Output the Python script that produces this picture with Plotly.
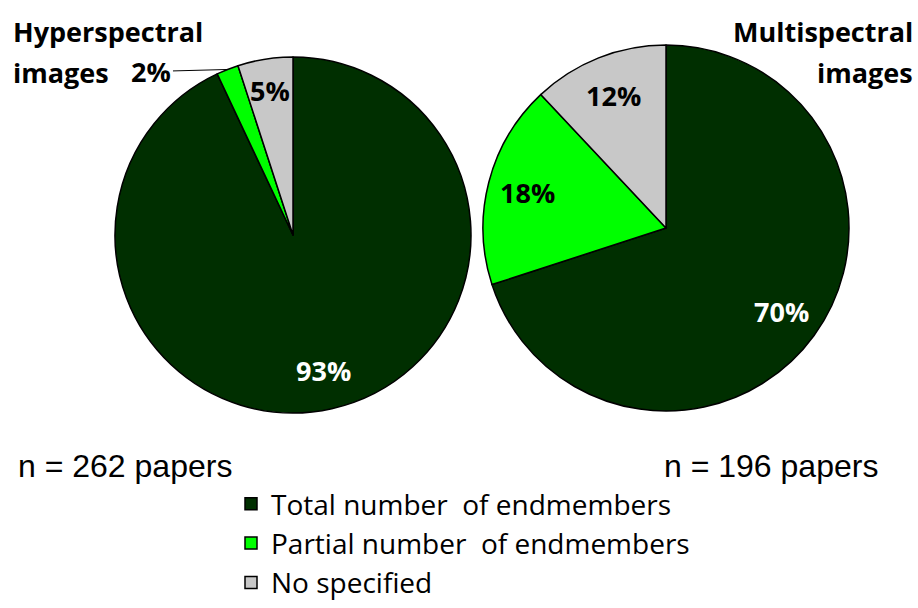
import math
import plotly.graph_objects as go

categories = ["Total number  of endmembers", "Partial number  of endmembers", "No specified"]
hyper_values = [93, 2, 5]
multi_values = [70, 18, 12]
colors = ["#002f00", "#00ff00", "#c8c8c8"]
label_colors = ["white", "black", "black"]
hyper_n = 262
multi_n = 196
hyper_title = ["Hyperspectral", "images"]
multi_title = ["Multispectral", "images"]

W, H = 918, 608
LABEL_FONT = "Open Sans"

# pie geometry (pixels): center x, center y, radius
HYPER_PIE = (293, 235, 178)
MULTI_PIE = (666, 228, 183)


def px_x(v):
    return v / W


def px_y(v):
    return 1 - v / H


def domain_of(pie):
    cx, cy, r = pie
    return dict(x=[px_x(cx - r), px_x(cx + r)], y=[px_y(cy + r), px_y(cy - r)])


def mid_angles(values):
    total = sum(values)
    out, cum = [], 0
    for v in values:
        out.append((cum + v / 2) / total * 2 * math.pi)
        cum += v
    return out


def point_on(pie, theta, frac):
    cx, cy, r = pie
    return cx + frac * r * math.sin(theta), cy - frac * r * math.cos(theta)


fig = go.Figure()
for values, pie, show in [(hyper_values, HYPER_PIE, True), (multi_values, MULTI_PIE, False)]:
    fig.add_trace(go.Pie(
        labels=categories, values=values, sort=False, direction="clockwise", rotation=0,
        marker=dict(colors=colors, line=dict(color="black", width=1.5)),
        textinfo="none", domain=domain_of(pie),
        showlegend=show, hoverinfo="label+percent",
    ))

# slice percentage labels, placed from the data angles
for values, pie, outside in [(hyper_values, HYPER_PIE, [False, True, False]),
                             (multi_values, MULTI_PIE, [False, False, False])]:
    total = sum(values)
    for i, (v, th) in enumerate(zip(values, mid_angles(values))):
        txt = f"{round(v / total * 100)}%"
        if outside[i]:
            px, py = point_on(pie, th, 1.0)
            fig.add_annotation(text=txt, x=px_x(px), y=px_y(py), xref="paper", yref="paper",
                               showarrow=True, arrowhead=0, arrowwidth=1, arrowcolor="black",
                               ax=-76, ay=2, standoff=0,
                               font=dict(family=LABEL_FONT, size=27, weight="bold", color="black"))
        else:
            frac = 0.78 if v / total > 0.1 else 0.82
            px, py = point_on(pie, th, frac)
            fig.add_annotation(text=txt, x=px_x(px), y=px_y(py), xref="paper", yref="paper",
                               showarrow=False, xanchor="center", yanchor="middle",
                               font=dict(family=LABEL_FONT, size=27, weight="bold", color=label_colors[i]))

# titles (one annotation per line to match the wider line spacing)
for j, line in enumerate(hyper_title):
    fig.add_annotation(text=line, x=px_x(11), y=px_y(31 + 42 * j), xref="paper", yref="paper",
                       xanchor="left", yanchor="middle", showarrow=False,
                       font=dict(family=LABEL_FONT, size=27, weight="bold", color="black"))
for j, line in enumerate(multi_title):
    fig.add_annotation(text=line, x=px_x(915), y=px_y(31 + 42 * j), xref="paper", yref="paper",
                       xanchor="right", yanchor="middle", showarrow=False,
                       font=dict(family=LABEL_FONT, size=27, weight="bold", color="black"))

fig.add_annotation(text=f"n = {hyper_n} papers", x=px_x(16), y=px_y(466), xref="paper", yref="paper",
                   xanchor="left", yanchor="middle", showarrow=False,
                   font=dict(family="Liberation Sans, Arial, sans-serif", size=32, color="black"))
fig.add_annotation(text=f"n = {multi_n} papers", x=px_x(880), y=px_y(466), xref="paper", yref="paper",
                   xanchor="right", yanchor="middle", showarrow=False,
                   font=dict(family="Liberation Sans, Arial, sans-serif", size=32, color="black"))

fig.update_layout(
    width=W, height=H, margin=dict(l=0, r=0, t=0, b=0, autoexpand=False),
    paper_bgcolor="white", plot_bgcolor="white",
    legend=dict(x=px_x(231), y=px_y(479), xanchor="left", yanchor="top",
                font=dict(family=LABEL_FONT, size=28, color="black"),
                bgcolor="rgba(0,0,0,0)", traceorder="normal"),
)

fig.write_html("out.html")
